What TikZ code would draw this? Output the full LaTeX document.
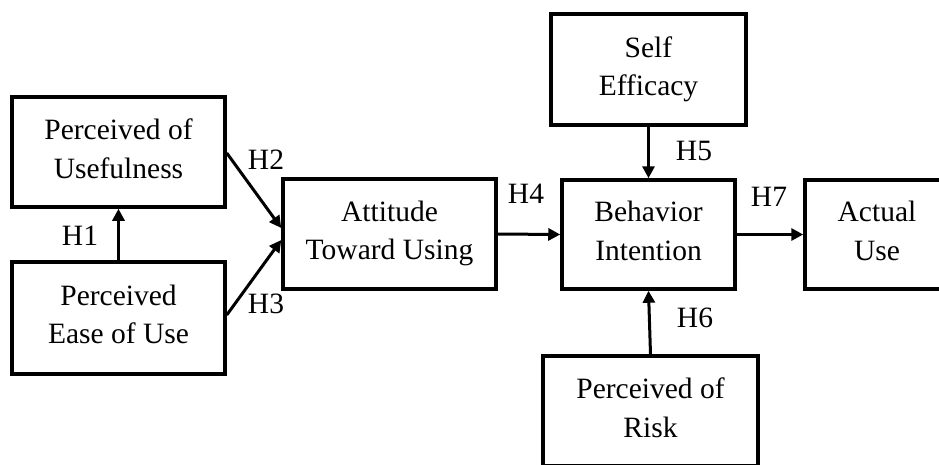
\documentclass[tikz,border=0pt]{standalone}
\usepackage{fontspec}
\setmainfont{Liberation Serif}
\usetikzlibrary{arrows.meta,calc}
\begin{document}
\begin{tikzpicture}[x=1pt,y=-1pt,
  box/.style={draw,line width=3.5pt,align=center,inner sep=0pt,
    font=\fontsize{29.5}{38.5}\selectfont,
    execute at begin node={\rule{0pt}{21pt}},
    execute at end node={\rule[-7pt]{0pt}{7pt}}},
  lab/.style={font=\fontsize{29.5}{35}\selectfont,inner sep=0pt},
  arr/.style={line width=3pt,-{Triangle[length=12pt,width=12pt]}}]
\useasboundingbox (0,0) rectangle (939,464);
\node[box,minimum width=213pt,minimum height=110pt] (use) at (118.5,152) {Perceived of\\Usefulness};
\node[box,minimum width=213pt,minimum height=112pt] (ease) at (118.5,318) {Perceived\\Ease of Use};
\node[box,minimum width=213pt,minimum height=110pt] (att) at (389.5,234) {Attitude\\Toward Using};
\node[box,minimum width=173pt,minimum height=109pt] (bi) at (648.5,234.5) {Behavior\\Intention};
\node[box,minimum width=195pt,minimum height=111pt] (se) at (648.5,69.5) {Self\\Efficacy};
\node[box,minimum width=215pt,minimum height=110pt] (risk) at (650.5,411) {Perceived of\\Risk};
\node[box,minimum width=144pt,minimum height=109pt] (act) at (877,234.5) {Actual\\Use};
\draw[arr] (ease.north) -- (use.south);
\draw[arr] ($(use.east)+(0,1)$) -- ($(att.west)+(0,-6)$);
\draw[arr] ($(ease.east)+(0,-3)$) -- ($(att.west)+(0,6)$);
\draw[arr] (att.east) -- (bi.west);
\draw[arr] (se.south) -- (bi.north);
\draw[arr] (risk.north) -- (bi.south);
\draw[arr] (bi.east) -- (act.west);
\node[lab] (h1) at (80,236) {H1};
\node[lab] (h2) at (266,160) {H2};
\node[lab] (h3) at (266,304) {H3};
\node[lab] (h4) at (526,194) {H4};
\node[lab] (h5) at (694,151) {H5};
\node[lab] (h6) at (695,318) {H6};
\node[lab] (h7) at (769,197) {H7};
\end{tikzpicture}
\end{document}
